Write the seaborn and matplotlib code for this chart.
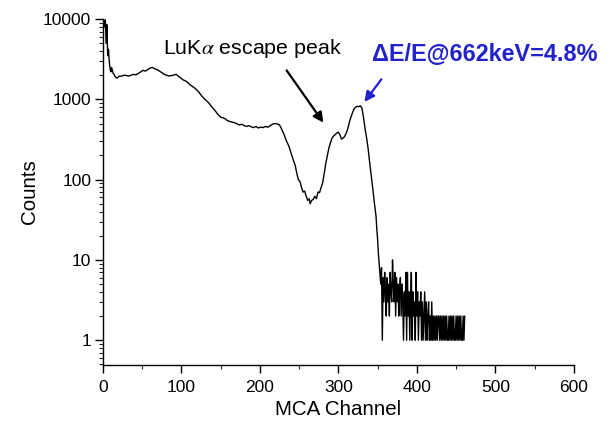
import numpy as np
import pandas as pd
import matplotlib
matplotlib.use("Agg")
import matplotlib.pyplot as plt
import seaborn as sns
from matplotlib.ticker import LogLocator, NullFormatter, MultipleLocator

# ---- data ----
head_ch = [1, 2, 3, 4, 5, 6, 7, 8, 9, 10, 11, 12, 13, 14, 15, 16, 17]
head_ct = [9500, 8000, 9800, 5000, 8500, 3500, 4200, 3000, 2400, 2200, 2500,
           2300, 2100, 2050, 1950, 1900, 1850]

body_ch = [18, 21, 24, 27, 30, 33, 36, 39, 42, 45, 48, 51, 54, 57, 60, 63, 66,
           69, 72, 75, 78, 81, 84, 87, 90, 93, 96, 99, 102, 105, 108, 111, 114,
           117, 120, 123, 126, 129, 132, 135, 138, 141, 144, 147, 150, 153, 156,
           159, 162, 165, 168, 171, 174, 177, 180, 183, 186, 189, 192, 195, 198,
           201, 204, 207, 210, 213, 216, 219, 222, 225, 228, 231, 234, 237, 240,
           243, 245, 247, 249, 251, 253, 255, 257, 259, 261, 263, 264, 266, 268,
           270, 272, 274, 276, 278, 280, 282, 284, 286, 288, 290, 292, 294, 296,
           298, 300, 302, 304, 306, 308, 310, 312, 314, 316, 318, 320, 322, 324,
           326, 328, 330, 332, 334, 336, 338, 340, 342, 344, 346, 348, 349, 350,
           351, 352, 353]
body_ct = [1850, 1950, 1950, 2000, 1980, 1950, 2000, 2050, 2020, 2100, 2200,
           2300, 2250, 2350, 2450, 2500, 2400, 2350, 2250, 2150, 2050, 2000,
           1950, 1980, 2000, 2050, 1950, 1850, 1750, 1700, 1620, 1520, 1450,
           1380, 1300, 1200, 1100, 1020, 960, 900, 820, 760, 700, 640, 600, 590,
           570, 540, 530, 520, 510, 495, 480, 490, 470, 460, 470, 455, 445, 460,
           440, 450, 445, 460, 450, 470, 490, 500, 495, 480, 420, 360, 300, 260,
           210, 170, 150, 120, 100, 95, 80, 70, 72, 62, 55, 58, 50, 55, 57, 62,
           58, 70, 69, 80, 92, 120, 160, 200, 250, 290, 330, 350, 365, 380, 390,
           360, 320, 330, 345, 380, 430, 520, 600, 680, 760, 800, 820, 810, 830,
           780, 600, 430, 330, 240, 160, 110, 75, 50, 35, 24, 18, 12, 9, 7]

tail_ch = list(range(354, 462))
tail_ct = [5, 8, 1, 6, 3, 7, 4, 2, 6, 3, 5, 2, 7, 4, 3, 10, 5, 3, 7, 2, 6, 3,
           5, 2, 4, 6, 2, 5, 3, 1, 4, 2, 7, 1, 7, 2, 4, 1, 3, 7, 1, 4, 2, 3, 1,
           7, 2, 4, 1, 3, 2, 4, 1, 3, 1, 2, 4, 1, 3, 1, 2, 3, 1, 2, 1, 3, 1, 2,
           1, 2, 1, 2, 1, 2, 2, 1, 2, 1, 2, 1, 2, 1, 2, 1, 2, 1, 1, 2, 1, 2, 1,
           2, 1, 2, 1, 1, 2, 1, 2, 1, 2, 1, 2, 1, 1, 2, 1, 2]

channels = head_ch + body_ch + tail_ch
counts = head_ct + body_ct + tail_ct
df = pd.DataFrame({"MCA Channel": channels, "Counts": counts})

escape_label = r"LuK$\alpha$ escape peak"
res_label = "ΔE/E@662keV=4.8%"

# ---- plotting ----
sns.set_style("ticks")
plt.rcParams["font.family"] = ["Liberation Sans", "DejaVu Sans"]
plt.rcParams["mathtext.fontset"] = "stix"

fig = plt.figure(figsize=(6.13, 4.24), dpi=100)
ax = fig.add_axes([0.168, 0.139, 0.768, 0.816])

sns.lineplot(data=df, x="MCA Channel", y="Counts", estimator=None,
             color="black", linewidth=1.0, ax=ax)

ax.set_yscale("log")
ax.set_xlim(0, 600)
ax.set_ylim(0.49, 10000)
ax.set_yticks([1, 10, 100, 1000, 10000])
ax.set_yticklabels(["1", "10", "100", "1000", "10000"])
ax.yaxis.set_minor_locator(LogLocator(base=10, subs=np.arange(2, 10)))
ax.yaxis.set_minor_formatter(NullFormatter())
ax.xaxis.set_major_locator(MultipleLocator(100))
ax.xaxis.set_minor_locator(MultipleLocator(50))

for s in ["top", "right"]:
    ax.spines[s].set_visible(False)
for s in ["left", "bottom"]:
    ax.spines[s].set_linewidth(1.0)
    ax.spines[s].set_color("black")

ax.tick_params(axis="both", which="major", direction="out", length=5.5, width=1,
               labelsize=12.5, colors="black", pad=3)
ax.tick_params(axis="x", which="major", pad=5)
ax.tick_params(axis="both", which="minor", direction="out", length=3, width=0.8)
ax.set_xlabel("MCA Channel", fontsize=14.8, labelpad=4, color="black")
ax.set_ylabel("Counts", fontsize=14.8, labelpad=3, color="black")

ax.text(190, 4300, escape_label, fontsize=15.4, ha="center", va="center",
        color="black")
ax.annotate("", xy=(283, 480), xytext=(232, 2450),
            arrowprops=dict(arrowstyle="-|>", color="black", lw=1.6,
                            mutation_scale=15))

ax.text(487, 3650, res_label, fontsize=16.8, fontweight="bold", ha="center",
        va="center", color="#2222cc")
ax.annotate("", xy=(331, 870), xytext=(357, 1900),
            arrowprops=dict(arrowstyle="-|>", color="#2222cc", lw=1.6,
                            mutation_scale=15))

fig.savefig("out.png", dpi=100)
